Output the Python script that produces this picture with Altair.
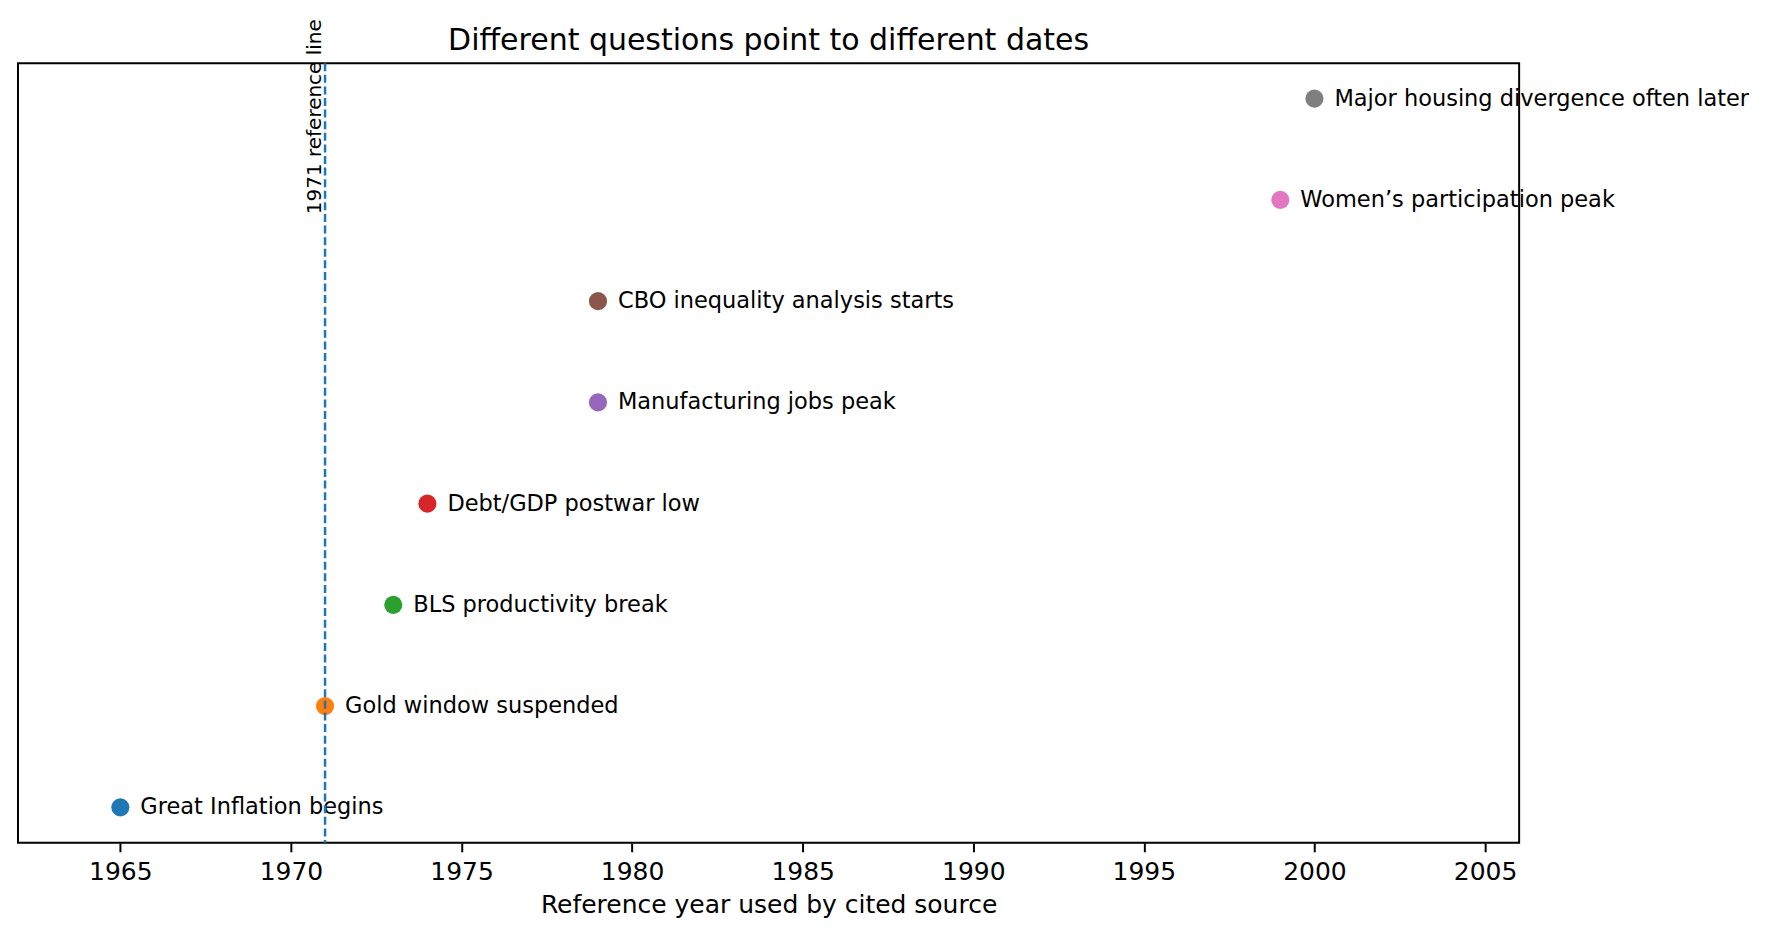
import pandas as pd
import altair as alt

events = [
    "Great Inflation begins",
    "Gold window suspended",
    "BLS productivity break",
    "Debt/GDP postwar low",
    "Manufacturing jobs peak",
    "CBO inequality analysis starts",
    "Women’s participation peak",
    "Major housing divergence often later",
]
years = [1965, 1971, 1973, 1974, 1979, 1979, 1999, 2000]
ref_year = [1971]
ref_label = ["1971 reference line"]
tick_years = [1965, 1970, 1975, 1980, 1985, 1990, 1995, 2000, 2005]

FONT = "DejaVu Sans"

df = pd.DataFrame({"event": events, "year": years, "pos": list(range(len(events)))})
ref = pd.DataFrame({"year": ref_year, "label": ref_label})

x = alt.X(
    "year:Q",
    scale=alt.Scale(domain=[1962, 2006], nice=False, zero=False),
    axis=alt.Axis(
        values=tick_years, format="d", title="Reference year used by cited source",
        labelFont=FONT, labelFontSize=25, labelColor="black", labelPadding=8,
        titleFont=FONT, titleFontSize=25, titleFontWeight="normal", titleColor="black",
        titlePadding=8, tickSize=9, tickWidth=2, tickColor="black",
        domain=False, grid=False,
    ),
)
y = alt.Y("pos:Q", scale=alt.Scale(domain=[-0.35, 7.35], nice=False, zero=False), axis=None)

base = alt.Chart(df).encode(x=x, y=y)

points = base.mark_circle(size=330, opacity=1).encode(
    color=alt.Color("event:N", scale=alt.Scale(domain=events, scheme="category10"), legend=None)
)
labels = base.mark_text(align="left", baseline="middle", dx=20, fontSize=22.5, font=FONT, color="black").encode(
    text="event:N"
)

# dashed marker for 1971, drawn over the points like the original
rule = alt.Chart(ref).mark_rule(color="#1f77b4", strokeWidth=2.5, strokeDash=[8, 3.6]).encode(
    x=alt.X("year:Q")
)
rule_text = alt.Chart(ref).mark_text(
    angle=270, align="right", baseline="bottom", fontSize=20, font=FONT, color="black"
).encode(x=alt.X("year:Q"), y=alt.value(-44), text="label:N")

chart = alt.layer(points, labels, rule, rule_text).properties(
    width=1502,
    height=780,
    title=alt.TitleParams(
        "Different questions point to different dates",
        font=FONT, fontSize=30, fontWeight="normal", color="black", anchor="middle", offset=-37,
    ),
    autosize=alt.AutoSizeParams(type="none"),
    padding={"left": 10, "top": 55, "right": 240, "bottom": 80},
).configure_view(stroke="black", strokeWidth=2)

chart.save("out.html", embed_options={"renderer": "svg", "actions": False})
